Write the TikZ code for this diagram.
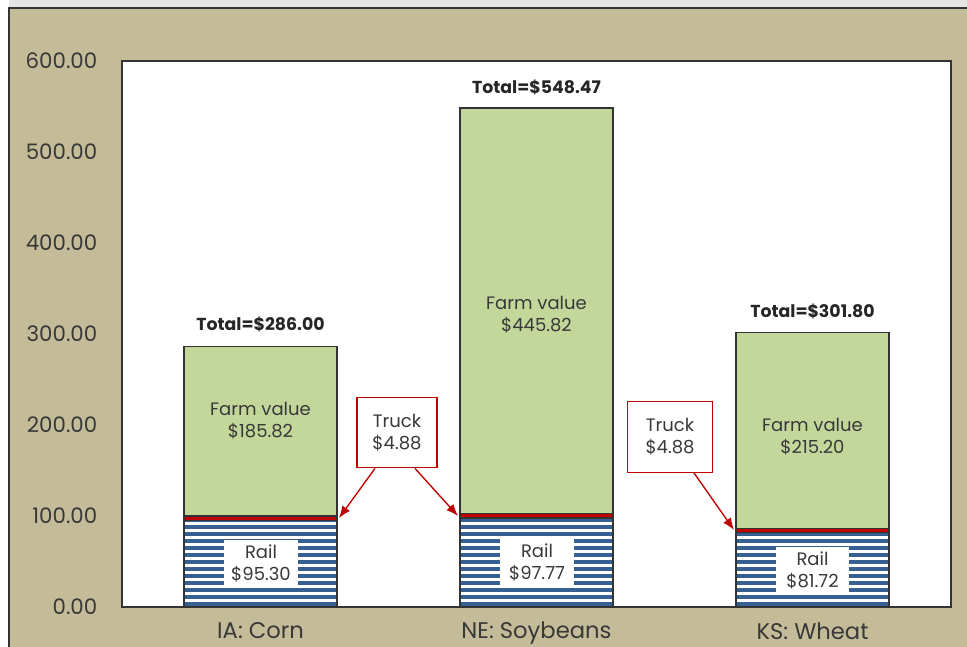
\documentclass[tikz,border=0pt]{standalone}
\usepackage{fontspec}
\setmainfont{Poppins}
\usepackage{tikz}
\usetikzlibrary{arrows.meta,backgrounds,calc}
\definecolor{frametan}{HTML}{C4BC99}
\definecolor{farmgreen}{HTML}{C4D79B}
\definecolor{truckred}{HTML}{C00000}
\definecolor{railblue}{HTML}{376092}
\definecolor{edgegray}{HTML}{333333}
\tikzset{
  seg/.style={draw=edgegray, line width=1pt},
  lbl/.style={align=center, text=black!78, font=\fontsize{13.5}{16.5}\selectfont},
  total/.style={text=black!85, font=\bfseries\fontsize{13}{15}\selectfont},
  tick/.style={anchor=east, text=black!78, font=\fontsize{16}{18}\selectfont},
  cat/.style={text=black!78, font=\fontsize{17}{19}\selectfont},
  railbox/.style={fill=white, inner sep=0pt, minimum width=55pt, minimum height=35pt},
  truckbox/.style={draw=truckred, fill=white, line width=0.9pt, inner sep=0pt},
  pointer/.style={-{Latex[length=9pt,width=7pt]}, draw=truckred, fill=truckred, line width=1pt}
}
\begin{document}
\begin{tikzpicture}[x=0.75pt,y=-0.75pt]
\useasboundingbox (0,0) rectangle (967,646);
\clip (0,0) rectangle (967,646);
\fill[black!10] (0,0) rectangle (967,646);
\fill[white] (0,0) rectangle (9,646);
\draw[fill=frametan, draw=edgegray, line width=1.5pt] (9,8) rectangle (990,670);
\draw[fill=white, draw=edgegray, line width=1.5pt] (122,61) rectangle (951,607);
\foreach \v/\t in {0/0.00,1/100.00,2/200.00,3/300.00,4/400.00,5/500.00,6/600.00}
  \node[tick] at (102,607-91*\v) {\t};
\foreach \l/\r/\u in {184/95.30/286.00, 460/97.77/548.47, 736/81.72/301.80} {
  \fill[white] (\l,607) rectangle (\l+153,{607-0.91*\r});
  \begin{scope}
    \clip (\l,607) rectangle (\l+153,{607-0.91*\r});
    \foreach \k in {0,...,14}
      \fill[railblue] (\l,{606-7*\k}) rectangle (\l+153,{602-7*\k});
  \end{scope}
  \draw[seg] (\l,607) rectangle (\l+153,{607-0.91*\r});
  \draw[seg, fill=truckred] (\l,{607-0.91*\r}) rectangle (\l+153,{607-0.91*(\r+4.88)});
  \draw[seg, fill=farmgreen] (\l,{607-0.91*(\r+4.88)}) rectangle (\l+153,{607-0.91*\u});
}
\node[total] (tot1) at (260.5,324) {Total=\$286.00};
\node[total] (tot2) at (536.5,87) {Total=\$548.47};
\node[total] (tot3) at (812.5,311) {Total=\$301.80};
\node[lbl] (farm1) at (260.5,421) {Farm value\\\$185.82};
\node[lbl] (farm2) at (536.5,315) {Farm value\\\$445.82};
\node[lbl] (farm3) at (812.5,437) {Farm value\\\$215.20};
\node[lbl, railbox] (rail1) at (261,563.5) {Rail\\\$95.30};
\node[lbl, railbox] (rail2) at (537,562.5) {Rail\\\$97.77};
\node[lbl, railbox] (rail3) at (812.5,570) {Rail\\\$81.72};
\node[lbl, truckbox, minimum width=60pt, minimum height=53pt] (truck1) at (397,432.5) {Truck\\\$4.88};
\node[lbl, truckbox, minimum width=64pt, minimum height=53pt] (truck3) at (670,437) {Truck\\\$4.88};
\coordinate (hit1) at (339,518);
\coordinate (hit2) at (458,516);
\coordinate (hit3) at (734,530);
\draw[pointer] ($(truck1.south)+(-22,0)$) -- (hit1);
\draw[pointer] ($(truck1.south)+(18,0)$) -- (hit2);
\draw[pointer] ($(truck3.south)+(24,0)$) -- (hit3);
\node[cat] (cat1) at (260.5,631) {IA: Corn};
\node[cat] (cat2) at (536.5,633) {NE: Soybeans};
\node[cat] (cat3) at (812.5,631) {KS: Wheat};
\end{tikzpicture}
\end{document}
